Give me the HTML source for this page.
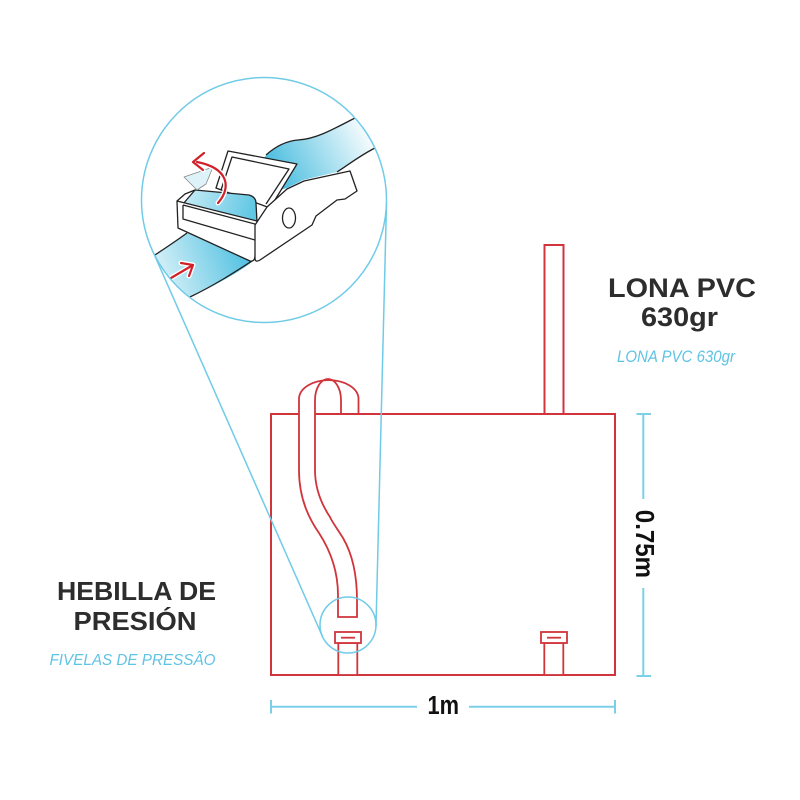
<!DOCTYPE html>
<html>
<head>
<meta charset="utf-8">
<style>
html,body{margin:0;padding:0;background:#fff;}
svg{display:block;}
text{font-family:"Liberation Sans",sans-serif;}
</style>
</head>
<body>
<svg width="800" height="800" viewBox="0 0 800 800" xmlns="http://www.w3.org/2000/svg">
  <defs>
    <clipPath id="cc"><circle cx="264" cy="200" r="122"/></clipPath>
    <linearGradient id="gu" gradientUnits="userSpaceOnUse" x1="278" y1="178" x2="372" y2="130">
      <stop offset="0" stop-color="#4fbfe0"/>
      <stop offset="1" stop-color="#ffffff"/>
    </linearGradient>
    <linearGradient id="gl" gradientUnits="userSpaceOnUse" x1="248" y1="258" x2="150" y2="295">
      <stop offset="0" stop-color="#52c1e1"/>
      <stop offset="1" stop-color="#eef9fc"/>
    </linearGradient>
    <linearGradient id="gi" gradientUnits="userSpaceOnUse" x1="190" y1="195" x2="256" y2="215">
      <stop offset="0" stop-color="#bfe8f4"/>
      <stop offset="1" stop-color="#5cc6e3"/>
    </linearGradient>
  </defs>

  <!-- main red drawing -->
  <g fill="none" stroke="#d0353c" stroke-width="2">
    <rect x="271" y="414" width="344" height="261"/>
    <path d="M544.5,414 V245 H563.5 V414"/>
  </g>

  <!-- strap loop -->
  <g stroke="#d0353c" stroke-width="1.8" fill="none">
    <path d="M341,414 L341,400 A13,21 0 0 0 315,400"/>
    <path d="M299,398 A29.8,19 0 0 1 358.5,398 L358.5,414"/>
  </g>
  <path d="M299,398 L299,470 C299,500 310,520 319,533 C330,550 338,570 338,595 L338,617 L357,617 L357,600 C357,568 350,550 343,538 C336,527 331,520 330,517 C322,505 315,490 315,470 L315,400 Z" fill="#fff" stroke="none"/>
  <g stroke="#d0353c" stroke-width="1.8" fill="none">
    <path d="M299,398 L299,470 C299,500 310,520 319,533 C330,550 338,570 338,595 L338,617 L357,617 L357,600 C357,568 350,550 343,538 C336,527 331,520 330,517 C322,505 315,490 315,470 L315,400"/>
  </g>

  <!-- buckles -->
  <g fill="#fff" stroke="#d0353c" stroke-width="1.8">
    <rect x="338.3" y="643" width="19" height="32"/>
    <rect x="335" y="632" width="26" height="11"/>
    <line x1="341" y1="637.7" x2="355" y2="637.7"/>
    <rect x="544.3" y="643" width="19" height="32"/>
    <rect x="541" y="632" width="26" height="11"/>
    <line x1="547" y1="637.7" x2="561" y2="637.7"/>
  </g>

  <!-- dimension lines -->
  <g stroke="#7ccfe9" stroke-width="2" fill="none">
    <line x1="643.3" y1="414" x2="643.3" y2="499"/>
    <line x1="643.3" y1="588" x2="643.3" y2="676"/>
    <line x1="636.5" y1="414" x2="651" y2="414"/>
    <line x1="636.5" y1="676" x2="651" y2="676"/>
    <line x1="271" y1="706.7" x2="417" y2="706.7"/>
    <line x1="469" y1="706.7" x2="615" y2="706.7"/>
    <line x1="271" y1="700" x2="271" y2="713.5"/>
    <line x1="615" y1="700" x2="615" y2="713.5"/>
  </g>

  <!-- zoom callout lines -->
  <g stroke="#6fcbe8" stroke-width="1.5" fill="none">
    <line x1="152" y1="249.4" x2="322.4" y2="636.3"/>
    <line x1="386.5" y1="203" x2="376" y2="625.7"/>
    <circle cx="348" cy="625" r="28"/>
  </g>

  <!-- big circle -->
  <circle cx="264" cy="200" r="122.5" fill="#fff"/>
  <g clip-path="url(#cc)" stroke="#222" stroke-width="1.3" stroke-linejoin="round">
    <!-- upper strap -->
    <path d="M262,160 C272,148 285,141 298,140 C315,139 330,131 353,119 L400,95 L400,135 L373,149 C358,157 348,165 337,172 L303,180 L287,188 L262,195 Z" fill="url(#gu)" stroke="none"/>
    <path d="M266,155 C276,146 286,141 298,140 C315,139 330,131 353,119 L400,95" fill="none"/>
    <path d="M337,172 C348,165 358,157 373,149 L400,135" fill="none"/>
    <!-- lower strap -->
    <path d="M130,270 C150,257 172,244 187,233 L254,257 L252,262 C235,275 210,288 190,297 L130,325 Z" fill="url(#gl)" stroke="none"/>
    <path d="M135,268 C152,257 172,244 187,233" fill="none"/>
    <path d="M160,312 L190,297 C215,285 235,272 252,261" fill="none"/>
    <!-- lid -->
    <path d="M228,151 L297,164 L270,208 L216,188 Z" fill="#fff"/>
    <path d="M221,190 L232,157 L289,169 L266,204" fill="none"/>
    <!-- inner strap -->
    <path d="M183,204 L195,190 L249,195 Q256,197 256,203 L257,222 Z" fill="url(#gi)"/>
    <path d="M184,177 L213,167 L206,184 L197,190 Z" fill="#cfeef7" fill-opacity="0.7" stroke="#888" stroke-width="0.8"/>
    <!-- box front -->
    <path d="M177,201 L185,194 L195,190 M177,201 L257,221 L255,257 Q254,262 250,261 L178,228 Z" fill="#fff"/>
    <path d="M183,205 L255,224" fill="none"/>
    <path d="M183,205 L183,219 L255,240" fill="none"/>
    <!-- lever -->
    <path d="M255,225 L267,207 L287,189 L304,181 L350,171 L357,191 L345,199 L337,200 L316,216 L312,225 L260,260 Q255,263 255,258 Z" fill="#fff"/>
    <ellipse cx="289" cy="218" rx="6.5" ry="10" fill="#fff"/>
    <!-- red arrows -->
    <g fill="none" stroke-linecap="round" stroke-linejoin="round">
      <path d="M218,203 C232,187 228,168 197,162" stroke="#fff" stroke-width="5"/>
      <path d="M204,153 L193,162 L203,170" stroke="#fff" stroke-width="5"/>
      <path d="M218,203 C232,187 228,168 197,162" stroke="#d0212a" stroke-width="2.2"/>
      <path d="M204,153 L193,162 L203,170" stroke="#d0212a" stroke-width="2.2"/>
      <path d="M171,278 L193,265" stroke="#fff" stroke-width="5"/>
      <path d="M181,263 L193,265 L189,276" stroke="#fff" stroke-width="5"/>
      <path d="M171,278 L193,265" stroke="#d0212a" stroke-width="2.2"/>
      <path d="M181,263 L193,265 L189,276" stroke="#d0212a" stroke-width="2.2"/>
    </g>
  </g>
  <circle cx="264" cy="200" r="122.5" fill="none" stroke="#6fcbe8" stroke-width="1.5"/>

  <!-- texts -->
  <text x="608" y="297" font-size="27" font-weight="bold" fill="#2d2d2d" textLength="148" lengthAdjust="spacingAndGlyphs">LONA PVC</text>
  <text x="641" y="326" font-size="27" font-weight="bold" fill="#2d2d2d" textLength="77" lengthAdjust="spacingAndGlyphs">630gr</text>
  <text x="617" y="362" font-size="16.5" font-style="italic" fill="#5fc3e4" textLength="118" lengthAdjust="spacingAndGlyphs">LONA PVC 630gr</text>

  <text x="57" y="600" font-size="26" font-weight="bold" fill="#2d2d2d" textLength="159" lengthAdjust="spacingAndGlyphs">HEBILLA DE</text>
  <text x="73.5" y="630" font-size="26" font-weight="bold" fill="#2d2d2d" textLength="123" lengthAdjust="spacingAndGlyphs">PRESIÓN</text>
  <text x="49.5" y="665" font-size="15.5" font-style="italic" fill="#5fc3e4" textLength="166" lengthAdjust="spacingAndGlyphs">FIVELAS DE PRESSÃO</text>

  <text x="427.5" y="714" font-size="25.5" font-weight="bold" fill="#111" textLength="31.5" lengthAdjust="spacingAndGlyphs">1m</text>
  <g transform="translate(645.5,544) rotate(90)">
    <text x="-34.2" y="9.5" font-size="26" font-weight="bold" fill="#111" textLength="68.3" lengthAdjust="spacingAndGlyphs">0.75m</text>
  </g>
</svg>
</body>
</html>
